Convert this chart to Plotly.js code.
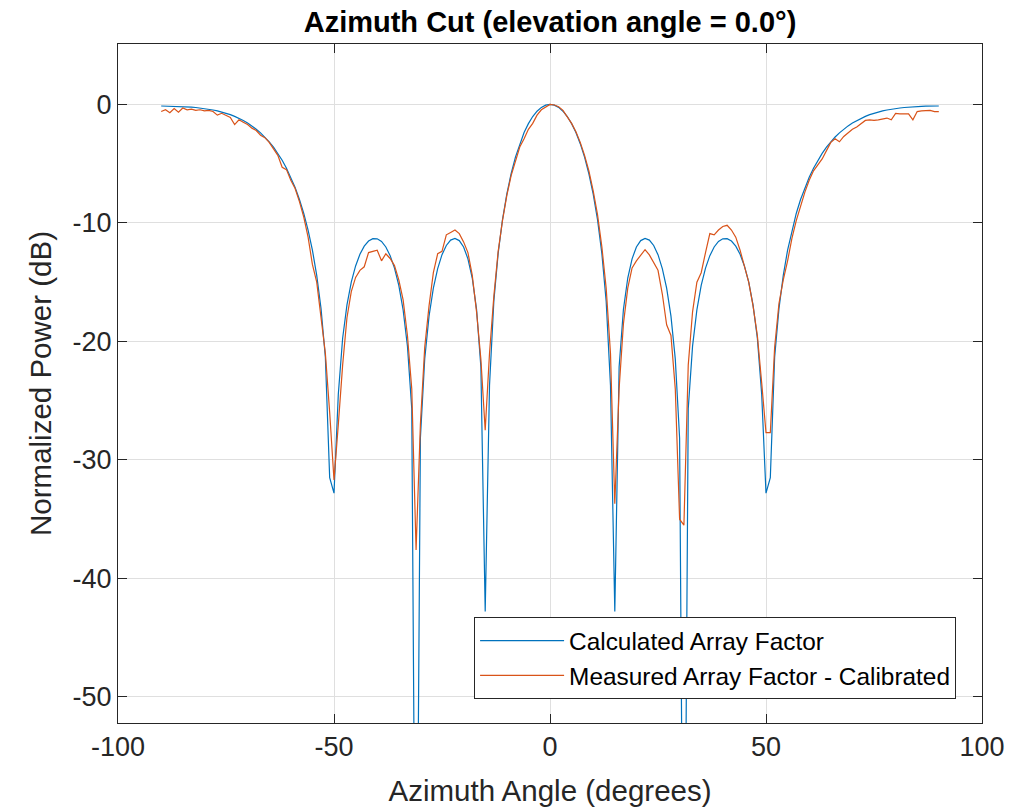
<!DOCTYPE html>
<html>
<head>
<meta charset="utf-8">
<script src="https://cdn.plot.ly/plotly-3.0.1.min.js"></script>
<style>html,body{margin:0;padding:0;background:#fff;}#chart{width:1030px;height:809px;}</style>
</head>
<body>
<div id="chart"></div>
<script>
const azimuthDeg = [-90,-89,-88,-87,-86,-85,-84,-83,-82,-81,-80,-79,-78,-77,-76,-75,-74,-73,-72,-71,-70,-69,-68,-67,-66,-65,-64,-63,-62,-61,-60,-59,-58,-57,-56,-55,-54,-53,-52,-51,-50,-49,-48,-47,-46,-45,-44,-43,-42,-41,-40,-39,-38,-37,-36,-35,-34,-33,-32,-31,-30,-29,-28,-27,-26,-25,-24,-23,-22,-21,-20,-19,-18,-17,-16,-15,-14,-13,-12,-11,-10,-9,-8,-7,-6,-5,-4,-3,-2,-1,0,1,2,3,4,5,6,7,8,9,10,11,12,13,14,15,16,17,18,19,20,21,22,23,24,25,26,27,28,29,30,31,32,33,34,35,36,37,38,39,40,41,42,43,44,45,46,47,48,49,50,51,52,53,54,55,56,57,58,59,60,61,62,63,64,65,66,67,68,69,70,71,72,73,74,75,76,77,78,79,80,81,82,83,84,85,86,87,88,89,90];

const calculatedDb = [-0.13,-0.14,-0.14,-0.15,-0.16,-0.18,-0.20,-0.22,-0.26,-0.30,-0.34,-0.40,-0.47,-0.54,-0.63,-0.74,-0.86,-1.01,-1.17,-1.36,-1.57,-1.81,-2.09,-2.40,-2.75,-3.16,-3.61,-4.13,-4.71,-5.38,-6.14,-7.01,-8.02,-9.20,-10.60,-12.29,-14.42,-17.23,-21.34,-31.5,-32.8,-24.45,-19.73,-16.91,-14.99,-13.63,-12.65,-11.96,-11.53,-11.33,-11.34,-11.56,-12.03,-12.76,-13.81,-15.27,-17.34,-20.40,-25.67,-80,-28.15,-21.47,-17.87,-15.51,-13.85,-12.68,-11.90,-11.45,-11.31,-11.49,-12.03,-13.03,-14.65,-17.29,-22.15,-42.8,-23.69,-16.60,-12.57,-9.73,-7.57,-5.85,-4.45,-3.31,-2.37,-1.62,-1.02,-0.57,-0.25,-0.06,0,-0.06,-0.25,-0.57,-1.02,-1.62,-2.37,-3.31,-4.45,-5.85,-7.57,-9.73,-12.57,-16.60,-23.69,-42.8,-22.15,-17.29,-14.65,-13.03,-12.03,-11.49,-11.31,-11.45,-11.90,-12.68,-13.85,-15.51,-17.87,-21.47,-28.15,-80,-25.67,-20.40,-17.34,-15.27,-13.81,-12.76,-12.03,-11.56,-11.34,-11.33,-11.53,-11.96,-12.65,-13.63,-14.99,-16.91,-19.73,-24.45,-32.8,-31.5,-21.34,-17.23,-14.42,-12.29,-10.60,-9.20,-8.02,-7.01,-6.14,-5.38,-4.71,-4.13,-3.61,-3.16,-2.75,-2.40,-2.09,-1.81,-1.57,-1.36,-1.17,-1.01,-0.86,-0.74,-0.63,-0.54,-0.47,-0.40,-0.34,-0.30,-0.26,-0.22,-0.20,-0.18,-0.16,-0.15,-0.14,-0.14,-0.13];

const measuredDb = [-0.6,-0.45,-0.7,-0.35,-0.65,-0.3,-0.45,-0.4,-0.5,-0.45,-0.55,-0.5,-0.6,-0.9,-0.75,-0.9,-1.1,-1.7,-1.3,-1.5,-1.7,-2.0,-2.2,-2.6,-2.8,-3.2,-3.7,-4.3,-5.3,-5.5,-6.4,-7.1,-8.2,-9.5,-11.2,-13.5,-15.0,-18.0,-21.0,-26.0,-31.7,-27.0,-22.0,-18.0,-15.8,-14.6,-14.0,-13.7,-12.5,-12.4,-12.3,-13.2,-12.6,-13.0,-13.6,-14.8,-16.5,-19.5,-24.0,-37.6,-27.0,-20.5,-17.0,-14.2,-12.6,-12.4,-11.0,-10.8,-10.6,-10.9,-11.6,-12.5,-14.4,-17.5,-21.5,-27.5,-21.0,-16.2,-12.4,-9.8,-7.7,-6.0,-4.8,-3.6,-2.9,-2.1,-1.6,-0.9,-0.45,-0.2,0,-0.05,-0.2,-0.5,-1.0,-1.6,-2.3,-3.2,-4.3,-5.6,-7.3,-9.3,-12.0,-15.5,-21.0,-33.7,-24.0,-18.5,-15.5,-13.8,-13.2,-12.7,-12.25,-12.7,-13.3,-14.0,-16.0,-18.6,-19.5,-24.0,-35.0,-35.5,-22.0,-17.5,-15.0,-14.2,-12.5,-10.9,-11.0,-10.6,-10.3,-10.2,-10.6,-11.2,-12.3,-13.6,-15.0,-17.0,-19.5,-23.5,-27.7,-27.7,-20.5,-16.8,-14.8,-13.2,-11.3,-9.8,-8.5,-7.4,-6.4,-5.6,-5.1,-4.6,-3.9,-3.2,-2.9,-3.15,-2.7,-2.4,-2.1,-1.9,-1.6,-1.35,-1.3,-1.35,-1.3,-1.2,-1.15,-1.3,-0.75,-0.8,-0.8,-0.8,-1.3,-0.6,-0.55,-0.5,-0.5,-0.6,-0.6];

const seriesNames = ['Calculated Array Factor', 'Measured Array Factor - Calibrated'];
const xTicks = [-100, -50, 0, 50, 100];
const yTicks = [-50, -40, -30, -20, -10, 0];

const FONT = 'Liberation Sans, Arial, Helvetica, sans-serif';
const AXC = '#262626';

const traces = [
  {x: azimuthDeg, y: calculatedDb, name: seriesNames[0], type: 'scatter', mode: 'lines',
   line: {color: '#0072BD', width: 1.2}},
  {x: azimuthDeg, y: measuredDb, name: seriesNames[1], type: 'scatter', mode: 'lines',
   line: {color: '#D95319', width: 1.2}}
];

const axisCommon = {
  showline: true, linecolor: AXC, linewidth: 1, mirror: 'ticks',
  ticks: 'inside', ticklen: 9, tickcolor: AXC, tickwidth: 1,
  showgrid: true, gridcolor: '#dfdfdf', gridwidth: 1,
  zeroline: false, tickfont: {family: FONT, size: 27, color: AXC},
  automargin: false
};

const layout = {
  width: 1030, height: 809,
  margin: {l: 118, r: 48, t: 44, b: 86},
  paper_bgcolor: '#fff', plot_bgcolor: '#fff',
  showlegend: true,
  title: {text: '<b>Azimuth Cut (elevation angle = 0.0°)</b>', font: {family: FONT, size: 29, color: '#000'},
          x: 0.5, xanchor: 'center', xref: 'paper', y: 0.973, yanchor: 'middle'},
  xaxis: Object.assign({}, axisCommon, {
    range: [-100, 100], tickvals: xTicks, ticktext: xTicks.map(String),
    title: {text: 'Azimuth Angle (degrees)', font: {family: FONT, size: 29.5, color: AXC}, standoff: 18}
  }),
  yaxis: Object.assign({}, axisCommon, {
    range: [-52.2, 5.1], tickvals: yTicks, ticktext: yTicks.map(String),
    title: {text: 'Normalized Power (dB)', font: {family: FONT, size: 29.5, color: AXC}, standoff: 12}
  }),
  legend: {
    x: 0.97, xanchor: 'right', y: 0.035, yanchor: 'bottom',
    bgcolor: '#fff', bordercolor: AXC, borderwidth: 1,
    font: {family: FONT, size: 24.4, color: '#000'},
    itemwidth: 84, tracegroupgap: 0
  }
};

Plotly.newPlot('chart', traces, layout, {displayModeBar: false, staticPlot: true});
</script>
</body>
</html>
